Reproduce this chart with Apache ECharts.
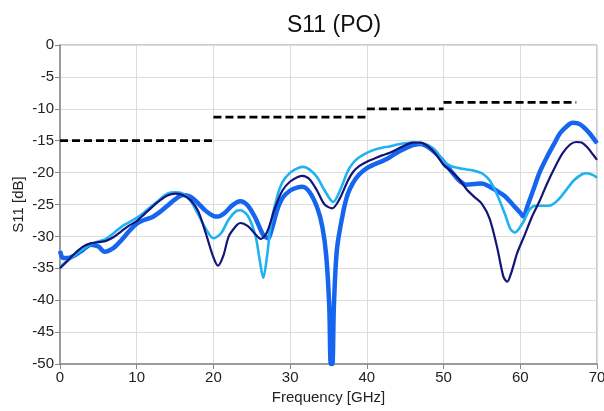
<!DOCTYPE html>
<html>
<head>
<meta charset="utf-8">
<script src="https://cdn.jsdelivr.net/npm/echarts@6/dist/echarts.min.js"></script>
<style>
html,body{margin:0;padding:0;background:#fff;}
#chart{width:604px;height:411px;}
</style>
</head>
<body>
<div id="chart"></div>
<script>
// Frequency [GHz] / S11 [dB] samples
const freqDark = [0,1,2,3,4,5,6,7,8,9,10,11,12,13,14,15,16,17,18,19,20,20.6,21.3,22,23,23.5,24.5,25.5,26.2,27,28,29,30,31,31.6,32.5,33.5,34.5,35.5,36.5,37.5,38.2,39,40,41,42,43,44,45,46,47,48,49,50,51,52,53,54,55,56,57,57.8,58.3,58.8,59.6,60.5,61.5,62.5,63.5,64.5,65.5,66.5,67.3,68,68.7,69.5,70];
const s11Dark  = [-35,-33.8,-32.6,-31.6,-31.1,-30.9,-30.7,-30.1,-29.2,-28.3,-27.6,-26.5,-25.4,-24.4,-23.6,-23.3,-23.5,-24.3,-26.0,-29.5,-33.3,-34.6,-33,-30,-28.3,-27.9,-28.4,-29.7,-30.4,-29.3,-25.6,-22.8,-21.4,-20.7,-20.5,-21,-22.8,-25,-25.6,-24,-21.3,-19.9,-19,-18.3,-17.8,-17.3,-16.9,-16.3,-15.7,-15.3,-15.3,-15.9,-17.1,-18.8,-19.8,-21.0,-22.6,-23.8,-24.9,-27.2,-31.8,-36.3,-37.1,-35.8,-32.6,-30,-27,-24.5,-21.7,-19.2,-17,-15.6,-15.2,-15.3,-16,-17.2,-18];

const freqMid = [0,0.4,1,2,3,4,5,5.8,7,8,9,10,11,12,13,14,15,16,17,18,19,20,20.6,21.5,22.5,23.5,24.5,25.5,26.5,27.1,27.7,28.3,29,30,31,31.6,32.5,33.5,34.2,34.7,35.1,35.3,35.5,35.7,36.1,36.9,37.5,38.2,39,40,41,42,43,44,45,46,47,48,49,50,51,52,53,54,55,56,57,58,59,60,60.4,61,61.7,62.5,63.5,64.5,65.2,66,66.8,67.5,68.2,69,70];
const s11Mid  = [-32.3,-33.4,-33.4,-32.9,-32.1,-31.3,-31.6,-32.4,-31.8,-30.6,-29.2,-28.0,-27.4,-27.0,-26.2,-25.2,-24.2,-23.5,-23.8,-24.8,-26.0,-26.8,-26.9,-26.3,-25.1,-24.5,-25.2,-27.2,-29.8,-30.3,-28.5,-25.9,-24.0,-22.8,-22.3,-22.2,-23,-25.4,-28.5,-33,-41,-50,-50,-41,-32,-26.3,-23.4,-21.6,-20.3,-19.3,-18.7,-18.2,-17.6,-16.8,-16.2,-15.7,-15.5,-16.0,-17.0,-18.3,-19.8,-21.2,-21.9,-21.8,-21.7,-22.2,-22.9,-23.7,-25.0,-26.3,-26.9,-25,-22.7,-20,-17.5,-15.3,-13.8,-12.8,-12.2,-12.3,-12.8,-13.8,-15.4];

const freqLight = [0,1,2,3,4,5,6,7,8,9,10,11,12,13,14,15,16,17,18,19,20,21,22,23,23.5,24.5,25.5,26,26.5,27,27.5,28.3,29,30,31,31.7,32.5,33.5,34.5,35.6,36.5,37.5,38.2,39,40,41,42,43,44,45,46,47,48,49,50,51,52,53,54,55,56,57,58,58.7,59.3,60,60.5,61.2,62,63,64,65,66,67,68,68.7,69.5,70];
const s11Light  = [-34.8,-33.8,-32.9,-32,-31.2,-30.8,-30.4,-29.5,-28.5,-27.8,-27.1,-26.2,-25.2,-24.2,-23.3,-23.1,-23.3,-24.4,-26.5,-28.8,-30.3,-29.5,-27.3,-26.0,-25.9,-26.8,-30,-33.5,-36.5,-33,-28,-23.8,-21.5,-20.0,-19.3,-19.1,-19.5,-20.7,-22.8,-24.6,-22.8,-19.8,-18.5,-17.6,-16.9,-16.4,-16.1,-15.9,-15.6,-15.4,-15.3,-15.4,-15.7,-16.6,-18.2,-19.0,-19.3,-19.5,-19.7,-20.1,-21.2,-23.5,-26.5,-28.8,-29.4,-28.5,-27.5,-25.8,-25.2,-25.2,-25.1,-24.2,-22.7,-21.2,-20.3,-20.1,-20.4,-20.8];

// Limit mask segments: [start GHz, end GHz, level dB]
const limitStart = [0, 20, 40, 50];
const limitEnd   = [20, 40, 50, 67.3];
const limitLevel = [-15, -11.3, -10, -9];

const xTicks = [0,10,20,30,40,50,60,70];
const yTicks = [0,-5,-10,-15,-20,-25,-30,-35,-40,-45,-50];

function pairs(xs, ys){ return xs.map((x,i)=>[x, ys[i]]); }

const FONT = 'Liberation Sans, Arial, sans-serif';
const series = [];
series.push({type:'line', name:'mid', data:pairs(freqMid, s11Mid), smooth:0.3, showSymbol:false, symbol:'none',
  lineStyle:{color:'#1565ef', width:4.5}, z:2});
series.push({type:'line', name:'light', data:pairs(freqLight, s11Light), smooth:0.3, showSymbol:false, symbol:'none',
  lineStyle:{color:'#1fb2f2', width:2.6}, z:3});
series.push({type:'line', name:'dark', data:pairs(freqDark, s11Dark), smooth:0.3, showSymbol:false, symbol:'none',
  lineStyle:{color:'#141478', width:2.2}, z:4});
limitStart.forEach((s,i)=>{
  series.push({type:'line', data:[[s, limitLevel[i]],[limitEnd[i], limitLevel[i]]], showSymbol:false, symbol:'none',
    lineStyle:{color:'#000', width:2.8, type:[8,4]}, z:5});
});

const chart = echarts.init(document.getElementById('chart'), null, {renderer:'canvas'});
chart.setOption({
  animation:false,
  backgroundColor:'#fff',
  title:{text:'S11 (PO)', left:329, top:9, textAlign:'center',
    textStyle:{fontFamily:FONT, fontSize:23, fontWeight:'normal', color:'#111'}},
  grid:{left:60, right:7, top:45, bottom:47, containLabel:false, outerBoundsMode:'none',
    show:true, borderColor:'#999', borderWidth:1},
  xAxis:{type:'value', min:0, max:70, interval:10,
    name:'Frequency [GHz]', nameLocation:'middle', nameGap:26, nameMoveOverlap:false,
    nameTextStyle:{fontFamily:FONT, fontSize:15, color:'#222'},
    axisLine:{show:true, onZero:false, lineStyle:{color:'#888', width:1.5}},
    axisTick:{show:true, inside:false, length:5, lineStyle:{color:'#888'}},
    axisLabel:{fontFamily:FONT, fontSize:15, color:'#222', margin:6},
    splitLine:{show:true, lineStyle:{color:'#dcdcdc', width:1}}},
  yAxis:{type:'value', min:-50, max:0, interval:5,
    name:'S11 [dB]', nameLocation:'middle', nameGap:34, nameRotate:90, nameMoveOverlap:false,
    nameTextStyle:{fontFamily:FONT, fontSize:15, color:'#222'},
    axisLine:{show:true, onZero:false, lineStyle:{color:'#888', width:1.5}},
    axisTick:{show:true, inside:false, length:5, lineStyle:{color:'#888'}},
    axisLabel:{fontFamily:FONT, fontSize:15, color:'#222', margin:6},
    splitLine:{show:true, lineStyle:{color:'#dcdcdc', width:1}}},
  series:series
});
</script>
</body>
</html>
